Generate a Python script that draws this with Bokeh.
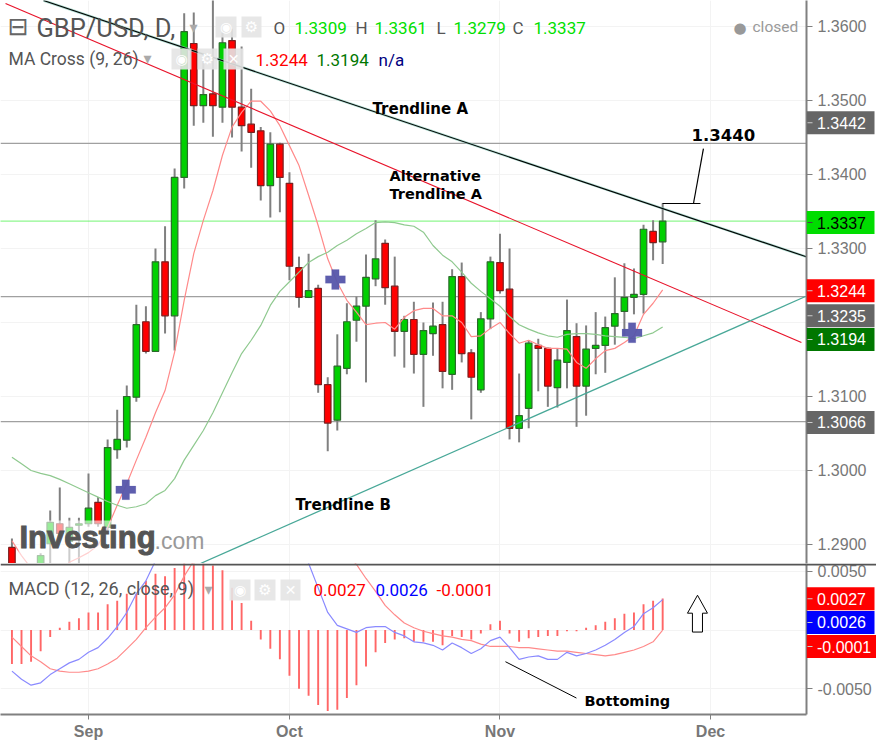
from bokeh.plotting import figure
from bokeh.layouts import column
from bokeh.models import Range1d, FixedTicker, Label, BoxAnnotation, ColumnDataSource
from bokeh.embed import file_html
from bokeh.resources import INLINE

candle_idx = [-8, -5, -4, -3, -2, -1] + list(range(0, 61))
opens = [1.2896,1.2862,1.2901,1.2928,1.2904,1.2926,
 1.2928,1.2957,1.2923,1.3028,1.3041,1.3099,1.3201,1.3161,1.3282,1.3209,
 1.3396,1.3577,1.3493,1.3509,1.3491,1.3581,1.3491,1.3468,1.3459,1.3385,
 1.3441,1.3388,1.3274,1.3234,1.3246,1.3116,1.3068,1.3138,1.3203,1.3222,
 1.3259,1.3307,1.3249,1.3188,1.3204,1.3157,1.3185,1.3197,1.3130,1.3262,
 1.3159,1.3109,1.3205,1.3281,1.3245,1.3057,1.3084,1.3169,1.3165,1.3112,
 1.3146,1.3181,1.3114,1.3165,1.3169,1.3195,1.3215,1.3234,1.3238,1.3323,1.3309]
closes = [1.2865,1.2885,1.2930,1.2915,1.2923,1.2928,
 1.2949,1.2928,1.3031,1.3042,1.3100,1.3197,1.3161,1.3282,1.3209,1.3396,
 1.3593,1.3493,1.3508,1.3493,1.3578,1.3491,1.3466,1.3457,1.3385,1.3441,
 1.3396,1.3276,1.3234,1.3243,1.3116,1.3064,1.3141,1.3201,1.3222,1.3261,
 1.3286,1.3247,1.3188,1.3204,1.3157,1.3189,1.3195,1.3134,1.3262,1.3158,
 1.3126,1.3205,1.3282,1.3243,1.3057,1.3074,1.3172,1.3165,1.3114,1.3149,
 1.3189,1.3114,1.3164,1.3169,1.3193,1.3212,1.3234,1.3238,1.3326,1.3308,1.3337]
highs = [1.2908,1.2888,1.2946,1.2977,1.2936,1.2936,
 1.2996,1.2964,1.3042,1.3082,1.3115,1.3224,1.3222,1.3300,1.3330,1.3408,
 1.3618,1.3619,1.3553,1.3649,1.3592,1.3597,1.3573,1.3516,1.3464,1.3457,
 1.3443,1.3403,1.3289,1.3293,1.3251,1.3126,1.3184,1.3226,1.3235,1.3292,
 1.3338,1.3312,1.3289,1.3209,1.3228,1.3200,1.3227,1.3228,1.3272,1.3281,
 1.3164,1.3214,1.3289,1.3320,1.3300,1.3131,1.3176,1.3178,1.3166,1.3165,
 1.3231,1.3199,1.3196,1.3214,1.3208,1.3261,1.3280,1.3273,1.3332,1.3338,1.3361]
lows = [1.2851,1.2854,1.2858,1.2905,1.2858,1.2858,
 1.2924,1.2924,1.2919,1.3016,1.3031,1.3093,1.3158,1.3160,1.3185,1.3162,
 1.3381,1.3466,1.3470,1.3451,1.3470,1.3450,1.3431,1.3409,1.3365,1.3342,
 1.3349,1.3257,1.3220,1.3233,1.3105,1.3026,1.3054,1.3130,1.3174,1.3119,
 1.3249,1.3224,1.3154,1.3139,1.3131,1.3086,1.3155,1.3111,1.3109,1.3146,
 1.3069,1.3105,1.3191,1.3239,1.3042,1.3038,1.3057,1.3107,1.3086,1.3085,
 1.3111,1.3059,1.3074,1.3130,1.3132,1.3170,1.3182,1.3211,1.3212,1.3284,1.3279]

ma9 = [1.2905,1.2885,1.2868,1.2858,1.2854,1.2858,1.2876,1.2882,1.2889,1.2899,1.2923,1.2953,1.2982,1.3014,1.3045,
 1.3078,1.3108,1.3160,1.3230,1.3293,1.3338,1.3378,1.3426,1.3464,1.3484,1.3499,1.3499,1.3486,1.3466,1.3439,
 1.3412,1.3372,1.3331,1.3286,1.3254,1.3230,1.3214,1.3197,1.3199,1.3200,1.3191,1.3207,1.3216,1.3219,1.3219,
 1.3209,1.3209,1.3200,1.3181,1.3182,1.3192,1.3200,1.3185,1.3172,1.3176,1.3170,1.3165,1.3165,1.3164,1.3146,
 1.3138,1.3151,1.3162,1.3165,1.3173,1.3182,1.3211,1.3226,1.3244]
ma26 = [1.3018,1.3009,1.3000,1.2996,1.2993,1.2988,1.2982,1.2976,1.2970,1.2964,1.2958,1.2953,1.2949,1.2951,1.2955,
 1.2966,1.2973,1.2989,1.3014,1.3034,1.3054,1.3078,1.3105,1.3132,1.3158,1.3176,1.3196,1.3223,1.3242,1.3255,
 1.3268,1.3281,1.3289,1.3295,1.3304,1.3311,1.3320,1.3327,1.3335,1.3336,1.3335,1.3332,1.3330,1.3322,1.3304,
 1.3291,1.3282,1.3268,1.3253,1.3242,1.3232,1.3222,1.3208,1.3197,1.3191,1.3186,1.3182,1.3180,1.3184,1.3185,
 1.3185,1.3184,1.3182,1.3181,1.3180,1.3178,1.3182,1.3186,1.3194]
hist = [-.0029,-.0029,-.0027,-.0018,-.0006,.0002,.0007,.0010,.0015,.0015,.0022,.0025,.0031,.0031,.0042,
 .0048,.0046,.0053,.0059,.0061,.0061,.0055,.0051,.0036,.0023,.0008,-.0008,-.0016,-.0025,-.0039,
 -.0050,-.0056,-.0064,-.0069,-.0068,-.0058,-.0047,-.0031,-.0019,-.0011,-.0008,-.0007,-.0010,-.0010,-.0010,
 -.0013,-.0005,-.0006,-.0008,-.0003,.0005,.0008,-.0003,-.0010,-.0007,-.0006,-.0005,-.0005,-.0001,-.0001,
 .0002,.0004,.0007,.0010,.0014,.0015,.0022,.0025,.0027]
macd_line = [-.0035,-.0042,-.0047,-.0045,-.0038,-.0033,-.0028,-.0025,-.0019,-.0015,-.0007,.0003,.0015,.0031,.0042,
 .0059,.0072,.0093,.0110,.0119,.0127,.0131,.0131,.0127,.0119,.0110,.0102,.0093,.0085,.0076,
 .0068,.0057,.0036,.0015,.0004,.0001,-.0002,.0002,.0003,.0003,-.0002,-.0005,-.0010,-.0011,-.0013,
 -.0017,-.0011,-.0015,-.0020,-.0016,-.0009,-.0006,-.0015,-.0025,-.0023,-.0022,-.0025,-.0025,-.0019,-.0022,
 -.0020,-.0017,-.0013,-.0008,-.0002,.0003,.0014,.0019,.0026]
signal_line = [-.0006,-.0014,-.0022,-.0027,-.0033,-.0035,-.0036,-.0036,-.0035,-.0033,-.0029,-.0024,-.0016,-.0008,.0002,
 .0011,.0019,.0030,.0046,.0059,.0072,.0085,.0097,.0106,.0114,.0119,.0120,.0120,.0119,.0114,
 .0106,.0097,.0089,.0081,.0072,.0064,.0056,.0044,.0033,.0021,.0013,.0006,.0002,-.0001,-.0003,
 -.0005,-.0006,-.0008,-.0009,-.0012,-.0014,-.0014,-.0014,-.0015,-.0015,-.0016,-.0017,-.0018,-.0018,-.0019,
 -.0020,-.0021,-.0022,-.0021,-.0019,-.0017,-.0014,-.0010,-.0005]
signal_line = signal_line[:68] + [0.0]

cross_x = [3.9, 25.8, 56.8]
cross_y = [1.2974, 1.3258, 1.3186]

trend_a_x, trend_a_y = [-4.70, 75.24], [1.36351, 1.32878]
trend_alt_x, trend_alt_y = [-8.67, 74.50], [1.36311, 1.31730]
trend_b_x, trend_b_y = [11.70, 74.92], [1.28743, 1.32351]
level_values = [1.3442, 1.3235, 1.3066]
last_price = 1.3337
call_h_x, call_h_y = [59.98, 63.95], [1.33608, 1.33608]
call_d_x, call_d_y = [63.22, 64.26], [1.33608, 1.3435]
bottom_x, bottom_y = [43.57, 50.99], [-.0027, -.0058]
arrow_x = [63.64, 64.68, 64.16, 64.16, 63.11, 63.11, 62.59]
arrow_y = [.00297, .00144, .00144, -.00017, -.00017, .00144, .00144]

month_ticks = [0, 21, 43, 65]
month_labels = {0: "Sep", 21: "Oct", 43: "Nov", 65: "Dec"}
price_ticks = [1.29, 1.30, 1.31, 1.32, 1.33, 1.34, 1.35, 1.36]
macd_ticks = [-.005, 0.0, .005]

price_flags = [("1.3442", 1.3470, "#666666", "white"), ("1.3337", 1.3335, "#00dd00", "black"),
               ("1.3244", 1.3243, "#ff0000", "white"), ("1.3235", 1.3209, "#666666", "white"),
               ("1.3194", 1.3177, "#007700", "white"), ("1.3066", 1.3065, "#666666", "white")]
macd_flags = [("0.0027", .0027, "#ff0000", "white"), ("0.0026", .00068, "#0000ff", "white"),
              ("-0.0001", -.00136, "#ff0000", "white")]

XR = (-9.195, 75.03)
PY = (1.28743, 1.36351)
MY = (-.0072034, .005678)
PH, MH = 563, 152
GREY = "#777777"

p = figure(width=876, height=563, output_backend="svg", toolbar_location=None,
           x_range=Range1d(*XR), y_range=Range1d(*PY),
           y_axis_location="right", x_axis_location=None,
           min_border_left=0, min_border_top=0, min_border_bottom=0, min_border_right=70,
           background_fill_color="white", outline_line_color=None)

q = figure(width=876, height=179, output_backend="svg", toolbar_location=None,
           x_range=p.x_range, y_range=Range1d(*MY),
           y_axis_location="right",
           min_border_left=0, min_border_top=0, min_border_bottom=27, min_border_right=70,
           background_fill_color="white", outline_line_color=None)


def gutter(height, top):
    g = figure(width=70, height=height, output_backend="svg", toolbar_location=None,
               x_axis_location=None, y_axis_location=None,
               x_range=Range1d(0, 70), y_range=Range1d(0, height),
               min_border_left=0, min_border_top=0, min_border_bottom=0, min_border_right=0,
               background_fill_alpha=0, border_fill_alpha=0, outline_line_color=None,
               styles={"position": "absolute", "left": "806px", "top": f"{top}px"})
    g.grid.visible = False
    return g


g1 = gutter(563, 0)
g2 = gutter(152, 563)

for f, ticks in ((p, price_ticks), (q, macd_ticks)):
    ax = f.yaxis[0]
    ax.ticker = FixedTicker(ticks=ticks)
    ax.axis_line_color = "#808080"
    ax.axis_line_width = 2
    ax.major_tick_line_color = "#808080"
    ax.major_tick_in = 0
    ax.major_tick_out = 6
    ax.minor_tick_line_color = None
    ax.major_label_standoff = 5
    ax.major_label_text_font = "Liberation Sans"
    ax.major_label_text_font_size = "16px"
    ax.major_label_text_color = GREY
    f.xgrid.ticker = FixedTicker(ticks=month_ticks)
    f.xgrid.grid_line_color = "#f3f3f3"
    f.ygrid.grid_line_color = "#f3f3f3"

p.yaxis[0].major_label_overrides = {t: "%.4f" % t for t in price_ticks}
p.yaxis[0].major_label_overrides[1.32] = ""
q.yaxis[0].major_label_overrides = {-.005: "-0.0050", 0.0: "", .005: "0.0050"}

xa = q.xaxis[0]
xa.ticker = FixedTicker(ticks=month_ticks)
xa.major_label_overrides = month_labels
xa.axis_line_color = "#808080"
xa.axis_line_width = 2
xa.major_tick_line_color = "#808080"
xa.major_tick_in = 0
xa.major_tick_out = 5
xa.minor_tick_line_color = None
xa.major_label_standoff = 3
xa.major_label_text_font = "Liberation Sans"
xa.major_label_text_font_style = "bold"
xa.major_label_text_font_size = "16px"
xa.major_label_text_color = GREY

for lv in level_values:
    p.line(XR, [lv, lv], line_color="#a0a0a0", line_width=1.3)
p.line(XR, [last_price, last_price], line_color="#22ee22", line_width=1.4, line_dash="1 1")

colors = ["#00d000" if c >= o else "#ff0000" for o, c in zip(opens, closes)]
borders = ["#2a6a2a" if c >= o else "#7a2020" for o, c in zip(opens, closes)]
src = ColumnDataSource(dict(x=candle_idx, o=opens, c=closes, h=highs, l=lows,
                            fill=colors, line=borders))
p.segment("x", "h", "x", "l", source=src, line_color="#808080", line_width=2)
p.vbar(x="x", width=0.68, top="o", bottom="c", source=src, fill_color="fill",
       line_color="line", line_width=1.2)

mi = list(range(-8, -8 + len(ma9)))
p.line(mi, ma9, line_color="#ff8a8a", line_width=1.2)
p.line(mi, ma26, line_color="#8fc98f", line_width=1.2)
p.scatter(cross_x, cross_y, marker="plus", size=20, fill_color="#5555aa", line_color="#5555aa",
          fill_alpha=0.95, line_alpha=0.3, line_width=0.5)

p.line(trend_a_x, trend_a_y, line_color="#88ccbb", line_width=2.5, line_alpha=0.7)
p.line(trend_a_x, trend_a_y, line_color="black", line_width=1.1)
p.line(trend_alt_x, trend_alt_y, line_color="#e8132a", line_width=1.1)
p.line(trend_b_x, trend_b_y, line_color="#48a898", line_width=1.3)
p.line(call_h_x, call_h_y, line_color="black", line_width=1.2)
p.line(call_d_x, call_d_y, line_color="black", line_width=1.2)


def note(f, text, x, y, size, color="#555555", font="Roboto", style="normal", **kw):
    f.add_layout(Label(x=x, y=y, x_units="canvas", y_units="canvas", text=text,
                       text_font=font, text_font_size=size, text_color=color,
                       text_font_style=style, text_baseline="middle", **kw))


def box(f, left, right, top, bottom, color, alpha=1.0):
    f.add_layout(BoxAnnotation(left=left, right=right, top=top, bottom=bottom,
                               left_units="canvas", right_units="canvas",
                               top_units="canvas", bottom_units="canvas",
                               fill_color=color, fill_alpha=alpha, line_color=None))


def flag(f, text, val, bg, fg, rng, height):
    sy = height * (rng[1] - val) / (rng[1] - rng[0])
    right = 70 if text.startswith("-") else 68
    box(f, 0, right, sy - 11.5, sy + 11.5, bg)
    box(f, 1, 6, sy - 0.5, sy + 0.5, "#cccccc" if fg == "white" else "#444444")
    f.add_layout(Label(x=10.5, y=sy, x_units="canvas", y_units="canvas", text=text,
                       text_font="Liberation Sans", text_font_size="16px", text_color=fg,
                       text_baseline="middle"))


def icon(f, left, right, top, bottom, glyph, size):
    box(f, left, right, top, bottom, "#e4e4e4", 0.9)
    f.add_layout(Label(x=(left + right) / 2, y=(top + bottom) / 2, x_units="canvas", y_units="canvas",
                       text=glyph, text_align="center", text_baseline="middle", text_color="white",
                       text_font="DejaVu Sans", text_font_size=size))


for t, v, bg, fg in price_flags:
    flag(g1, t, v, bg, fg, PY, PH)
for t, v, bg, fg in macd_flags:
    flag(g2, t, v, bg, fg, MY, MH)
box(g2, 0, 70, 0, 2, "#555555")

# logo
box(p, 18, 200, 520, 563, "white", 0.6)
note(p, "Investing", 19, 537, "31px", "#555555", "Liberation Sans", "bold",
     text_outline_color="#555555")
note(p, ".com", 154, 540, "23px", "#999999", "Liberation Sans")

# header
note(p, "⊟", 7, 26, "25px", "#666666", "DejaVu Sans")
note(p, "GBP/USD, D,", 36, 27, "25.5px", "#555555", "Roboto")
note(p, "O", 273, 27, "17px")
note(p, "1.3309", 294, 27, "17px", "#00e000")
note(p, "H", 355, 27, "17px")
note(p, "1.3361", 374, 27, "17px", "#00e000")
note(p, "L", 436, 27, "17px")
note(p, "1.3279", 453, 27, "17px", "#00e000")
note(p, "C", 512, 27, "17px")
note(p, "1.3337", 533, 27, "17px", "#00e000")
note(p, "●", 733, 27, "15px", "#999999", "DejaVu Sans")
note(p, "closed", 752, 26, "15.5px", "#999999")
note(p, "MA Cross (9, 26)", 8, 58, "17.5px")
note(p, "1.3244", 255, 59, "17px", "#ff0000")
note(p, "1.3194", 316, 59, "17px", "#007700")
note(p, "n/a", 378, 59, "17px", "#000080")
note(p, "▾", 189, 27, "16px", "#aaaaaa", "DejaVu Sans")
note(p, "▾", 143, 58, "16px", "#aaaaaa", "DejaVu Sans")
icon(p, 215, 236, 16, 37, "◉", "14px")
icon(p, 241, 261, 16, 37, "⚙", "15px")
icon(p, 171, 191, 48, 69, "◉", "14px")
icon(p, 197, 217, 48, 69, "⚙", "15px")
icon(p, 223, 243, 48, 69, "✕", "14px")

# drawn notes
note(p, "Trendline A", 372, 108, "15px", "black", "DejaVu Sans", "bold")
note(p, "Alternative", 389, 175, "14.5px", "black", "DejaVu Sans", "bold")
note(p, "Trendline A", 389, 193, "14.5px", "black", "DejaVu Sans", "bold")
note(p, "Trendline B", 295, 504, "15px", "black", "DejaVu Sans", "bold")
note(p, "1.3440", 691, 134, "16.5px", "black", "DejaVu Sans", "bold")

# MACD
q.vbar(x=mi, width=0.2, top=hist, bottom=[0.0] * len(hist), fill_color="#ff6666", line_color=None)
q.line(mi, signal_line, line_color="#ff8a8a", line_width=1.2)
q.line(mi, macd_line, line_color="#8a8aff", line_width=1.2)
q.line(bottom_x, bottom_y, line_color="black", line_width=1)
q.patch(arrow_x, arrow_y, fill_color="white", line_color="black", line_width=1)
box(q, 0, 876, 0, 2, "#555555")
note(q, "MACD (12, 26, close, 9)", 8, 25, "18px")
note(q, "▾", 204, 26, "16px", "#aaaaaa", "DejaVu Sans")
note(q, "0.0027", 313, 26, "17px", "#ff0000")
note(q, "0.0026", 375, 26, "17px", "#0000ff")
note(q, "-0.0001", 436, 26, "17px", "#ff0000")
icon(q, 229, 250, 16, 37, "◉", "14px")
icon(q, 254, 275, 16, 37, "⚙", "15px")
icon(q, 280, 300, 16, 37, "✕", "14px")
note(q, "Bottoming", 584, 137, "14.5px", "black", "DejaVu Sans", "bold")

layout = column(p, q, spacing=0, styles={"position": "absolute", "left": "0px", "top": "0px"})
open("out.html", "w").write(file_html([layout, g1, g2], INLINE))
